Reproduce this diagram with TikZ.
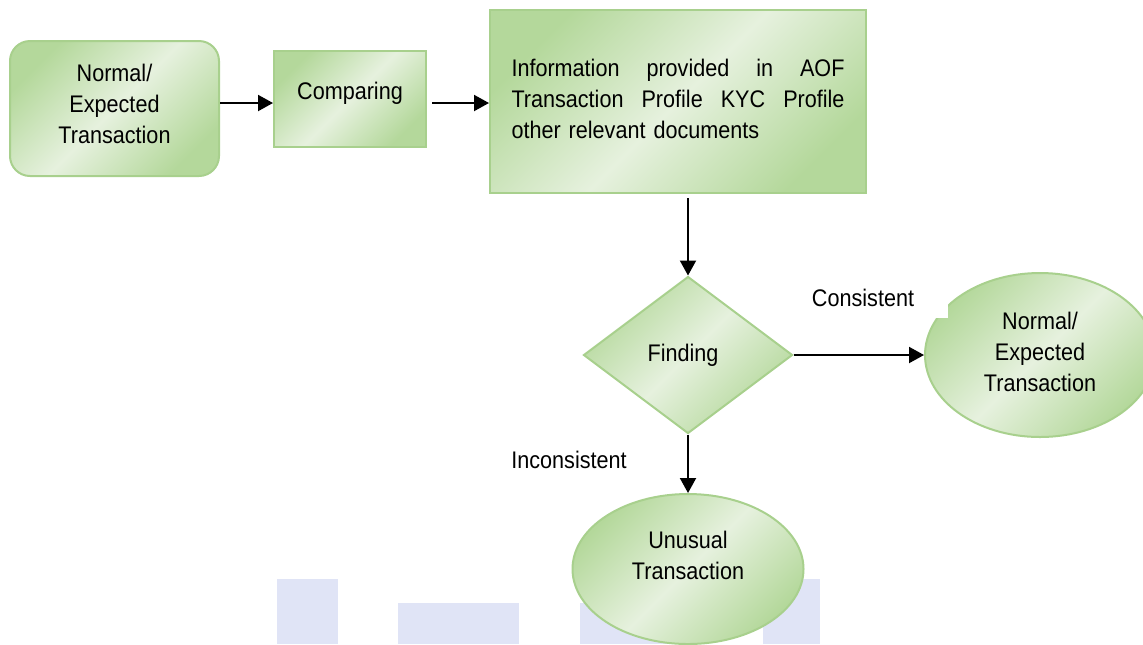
\documentclass[tikz,border=0pt]{standalone}
\usepackage{fontspec}
\setmainfont{Liberation Sans}[FakeStretch=0.9]
\usetikzlibrary{shapes.geometric,arrows.meta}

\definecolor{boxline}{RGB}{168,208,141}
\definecolor{boxdark}{RGB}{180,216,155}
\definecolor{boxlight}{RGB}{230,241,222}
\definecolor{markblue}{RGB}{224,228,246}

\newcommand{\lowstrut}[1]{\rule[-#1]{0pt}{0pt}}

\tikzset{
  flowfill/.style={draw=boxline, line width=1pt, left color=boxdark, right color=boxdark,
    middle color=boxlight, shading angle=45, align=center, font=\fontsize{12}{15.5}\selectfont},
  flowarrow/.style={-{Triangle[length=7.5pt,width=8pt]}, line width=1pt},
  flowlabel/.style={font=\fontsize{12}{15.5}\selectfont, inner sep=0pt}
}

\begin{document}
\begin{tikzpicture}[x=0.5pt,y=-0.5pt]
  \useasboundingbox (0,0) rectangle (1143,644);
  % pale blocks along the bottom edge
  \fill[markblue] (277,579) rectangle (338,644);
  \fill[markblue] (398,603) rectangle (519,644);
  \fill[markblue] (580,603) rectangle (700,644);
  \fill[markblue] (763,579) rectangle (820,644);

  \node[flowfill, rounded corners=10pt, minimum width=104.5pt, minimum height=67.5pt] (start) at (114.5,108.5) {Normal/\\Expected\\Transaction\lowstrut{5pt}};
  \node[flowfill, minimum width=76pt, minimum height=48pt] (compare) at (350,99) {Comparing\lowstrut{8.5pt}};
  \node[flowfill, align=left, text width=166.5pt, minimum width=188pt, minimum height=91.5pt] (info) at (678,101.5)
    {Information\hfill provided\hfill in\hfill AOF\\
     Transaction\hfill Profile\hfill KYC\hfill Profile\\
     other relevant documents\lowstrut{3pt}};
  \node[flowfill, diamond, minimum width=104.5pt, minimum height=78.5pt] (find) at (688,355) {Finding\hspace*{5pt}};
  \node[flowfill, ellipse, minimum width=115pt, minimum height=82pt] (okay) at (1040,355) {Normal/\\Expected\\Transaction\lowstrut{3.5pt}};
  \node[flowfill, ellipse, minimum width=115.5pt, minimum height=75pt] (unusual) at (688,569) {Unusual\\Transaction\lowstrut{14pt}};

  \node[flowlabel, fill=white, minimum width=85pt, minimum height=20pt] (consist) at (863,298) {Consistent};
  \node[flowlabel] (inconsist) at (569,460) {Inconsistent};

  \draw[flowarrow] (start.east |- 0,103) -- (compare.west |- 0,103);
  \draw[flowarrow, shorten <=2.5pt] (compare.east |- 0,103) -- (info.west |- 0,103);
  \draw[flowarrow, shorten <=2pt] (info.south -| find.north) -- (find.north);
  \draw[flowarrow] (find.east) -- (okay.west);
  \draw[flowarrow] (find.south) -- (unusual.north);
\end{tikzpicture}
\end{document}
